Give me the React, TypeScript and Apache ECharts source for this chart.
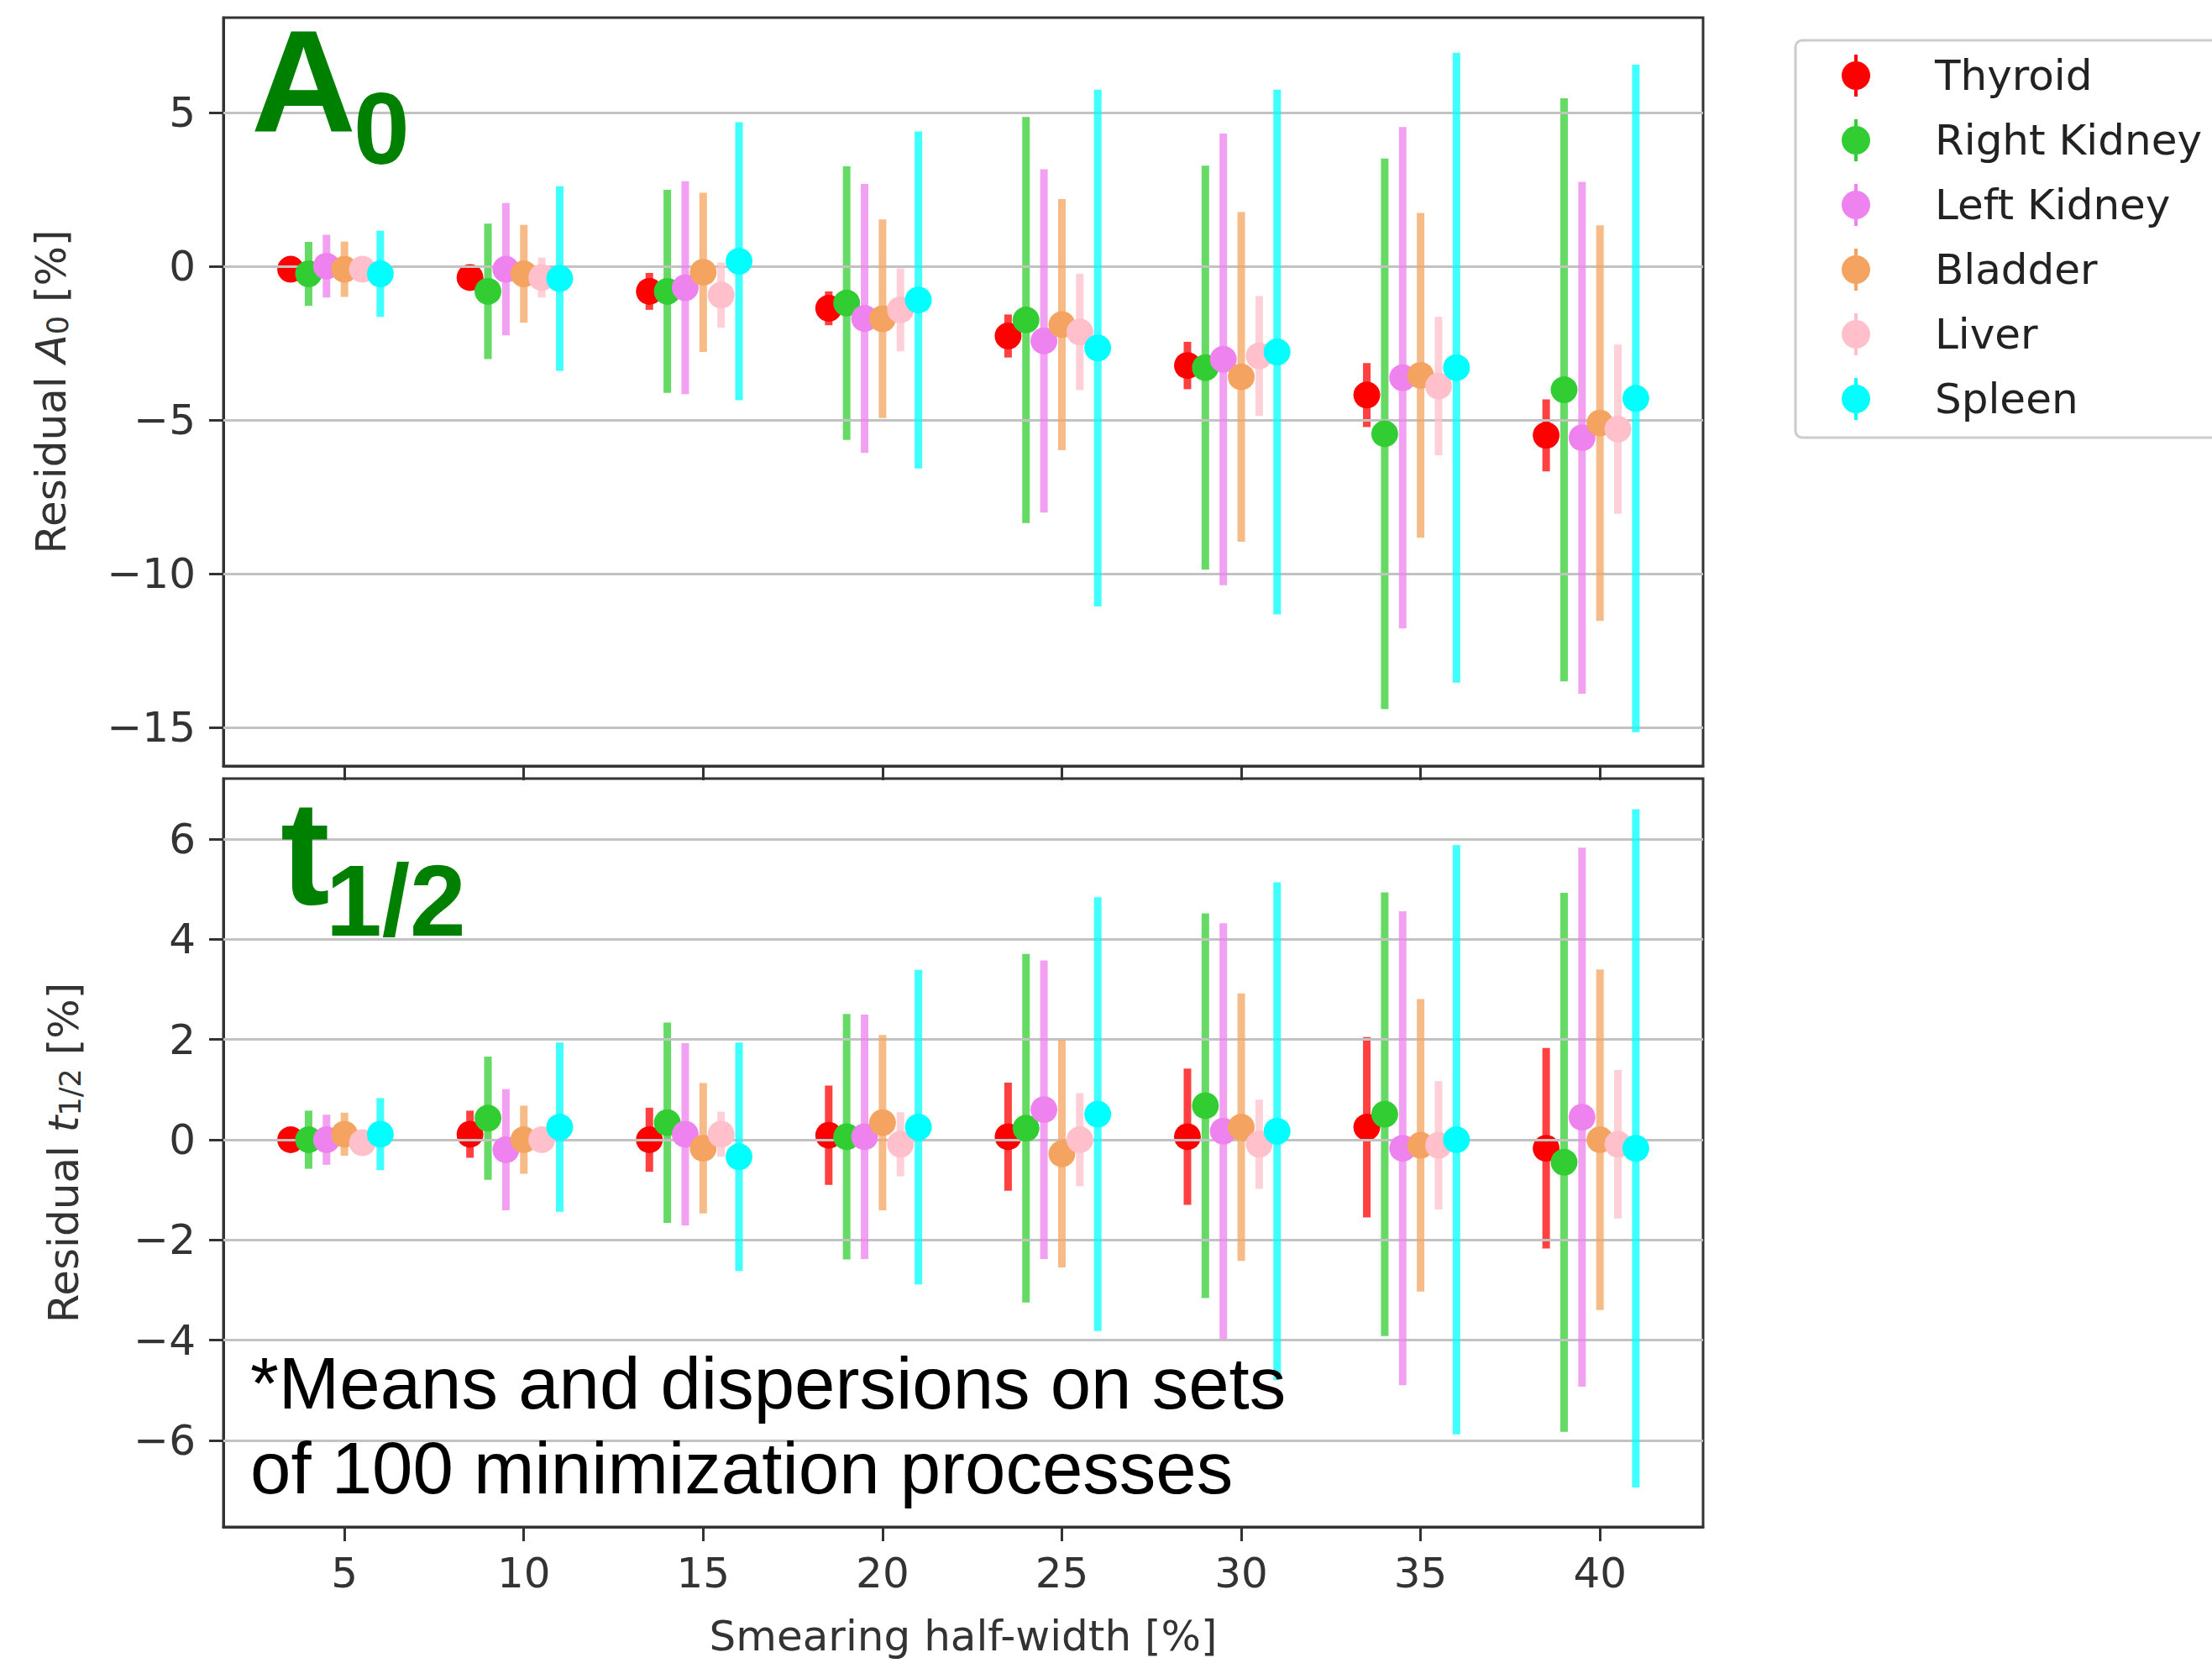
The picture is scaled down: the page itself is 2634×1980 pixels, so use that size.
import React, { useEffect, useRef } from "react";
import * as echarts from "echarts";

// ---------- data ----------
const organs = ["Thyroid", "Right Kidney", "Left Kidney", "Bladder", "Liver", "Spleen"];
const smearing = [5, 10, 15, 20, 25, 30, 35, 40];
const a0Ticks = [-15, -10, -5, 0, 5];
const tHalfTicks = [-6, -4, -2, 0, 2, 4, 6];

// Residual A0 [%] : means and dispersions
const a0ThyroidMean = [-0.1, -0.37, -0.82, -1.37, -2.27, -3.23, -4.19, -5.5];
const a0ThyroidErr = [0.3, 0.35, 0.6, 0.55, 0.7, 0.77, 1.04, 1.17];
const a0RightKidneyMean = [-0.25, -0.82, -0.82, -1.2, -1.75, -3.3, -5.45, -4.02];
const a0RightKidneyErr = [1.04, 2.2, 3.3, 4.45, 6.6, 6.57, 8.95, 9.48];
const a0LeftKidneyMean = [0.0, -0.1, -0.7, -1.7, -2.43, -3.03, -3.63, -5.58];
const a0LeftKidneyErr = [1.02, 2.15, 3.46, 4.37, 5.58, 7.34, 8.15, 8.32];
const a0BladderMean = [-0.1, -0.25, -0.2, -1.71, -1.9, -3.6, -3.55, -5.1];
const a0BladderErr = [0.9, 1.59, 2.59, 3.23, 4.08, 5.36, 5.28, 6.43];
const a0LiverMean = [-0.1, -0.37, -0.94, -1.42, -2.14, -2.92, -3.9, -5.3];
const a0LiverErr = [0.3, 0.65, 1.06, 1.35, 1.89, 1.95, 2.25, 2.75];
const a0SpleenMean = [-0.25, -0.4, 0.16, -1.1, -2.66, -2.79, -3.3, -4.3];
const a0SpleenErr = [1.4, 3.0, 4.52, 5.48, 8.4, 8.53, 10.24, 10.85];

// Residual t1/2 [%] : means and dispersions
const tThyroidMean = [0.0, 0.11, 0.0, 0.09, 0.06, 0.06, 0.25, -0.17];
const tThyroidErr = [0.25, 0.47, 0.64, 0.99, 1.08, 1.36, 1.8, 2.0];
const tRightKidneyMean = [0.0, 0.43, 0.34, 0.06, 0.23, 0.68, 0.51, -0.45];
const tRightKidneyErr = [0.58, 1.23, 2.0, 2.45, 3.48, 3.84, 4.43, 5.38];
const tLeftKidneyMean = [0.0, -0.2, 0.11, 0.06, 0.6, 0.17, -0.17, 0.45];
const tLeftKidneyErr = [0.5, 1.21, 1.82, 2.44, 2.98, 4.15, 4.73, 5.38];
const tBladderMean = [0.11, 0.0, -0.17, 0.34, -0.28, 0.25, -0.11, 0.0];
const tBladderErr = [0.43, 0.68, 1.3, 1.75, 2.27, 2.67, 2.92, 3.4];
const tLiverMean = [-0.06, 0.0, 0.11, -0.09, 0.0, -0.09, -0.11, -0.09];
const tLiverErr = [0.2, 0.25, 0.45, 0.64, 0.93, 0.89, 1.28, 1.48];
const tSpleenMean = [0.11, 0.25, -0.34, 0.25, 0.51, 0.17, 0.0, -0.17];
const tSpleenErr = [0.72, 1.69, 2.28, 3.14, 4.33, 4.97, 5.88, 6.77];

const a0Means = [a0ThyroidMean, a0RightKidneyMean, a0LeftKidneyMean, a0BladderMean, a0LiverMean, a0SpleenMean];
const a0Errs = [a0ThyroidErr, a0RightKidneyErr, a0LeftKidneyErr, a0BladderErr, a0LiverErr, a0SpleenErr];
const tMeans = [tThyroidMean, tRightKidneyMean, tLeftKidneyMean, tBladderMean, tLiverMean, tSpleenMean];
const tErrs = [tThyroidErr, tRightKidneyErr, tLeftKidneyErr, tBladderErr, tLiverErr, tSpleenErr];

// ---------- style ----------
const dodge = [-1.5, -1, -0.5, 0, 0.5, 1];
const colors = ["#ff0000", "#32cd32", "#ee82ee", "#f4a460", "#ffc0cb", "#00ffff"];
const AX_FONT = "DejaVu Sans";
const AX_COLOR = "#333333";
const GRID_LEFT = 266;
const GRID_WIDTH = 1762;
const legendIcon =
  "path://M0,25 A17,17 0 1 1 34,25 A17,17 0 1 1 0,25 Z M15,0 L19,0 L19,50 L15,50 Z";

const minus = (v: number) => String(v).replace("-", "\u2212");

function buildOption() {
  const series: any[] = [];
  const panels = [
    { means: a0Means, errs: a0Errs, ticks: a0Ticks },
    { means: tMeans, errs: tErrs, ticks: tHalfTicks },
  ];
  // scatter series first so the legend takes their colour
  panels.forEach((p, pi) => {
    organs.forEach((name, i) => {
      series.push({
        type: "scatter",
        name,
        xAxisIndex: pi,
        yAxisIndex: pi,
        symbol: "circle",
        symbolSize: 32,
        itemStyle: { color: colors[i], opacity: 1 },
        z: 3 + 2 * i,
        data: smearing.map((x, k) => [x + dodge[i], p.means[i][k]]),
      });
    });
  });
  panels.forEach((p, pi) => {
    organs.forEach((name, i) => {
      const color = colors[i];
      series.push({
        type: "custom",
        name,
        xAxisIndex: pi,
        yAxisIndex: pi,
        itemStyle: { color },
        z: 2 + 2 * i,
        encode: { x: 0, y: [1, 2] },
        data: smearing.map((x, k) => [
          x + dodge[i],
          p.means[i][k] - p.errs[i][k],
          p.means[i][k] + p.errs[i][k],
        ]),
        renderItem: (params: any, api: any) => {
          const lo = api.coord([api.value(0), api.value(1)]);
          const hi = api.coord([api.value(0), api.value(2)]);
          return {
            type: "line",
            shape: { x1: lo[0], y1: lo[1], x2: hi[0], y2: hi[1] },
            style: { stroke: color, lineWidth: 9, opacity: 0.75 },
          };
        },
      });
    });
    // horizontal grid lines
    series.push({
      type: "scatter",
      name: "grid" + pi,
      xAxisIndex: pi,
      yAxisIndex: pi,
      data: [],
      z: 1,
      markLine: {
        silent: true,
        symbol: ["none", "none"],
        label: { show: false },
        lineStyle: { color: "#c2c2c2", width: 3, type: "solid" },
        data: p.ticks.map((v) => ({ yAxis: v })),
      },
    });
  });

  const xAxisBase = (showLabels: boolean) => ({
    type: "value",
    min: 1.625,
    max: 42.875,
    axisLine: { show: true, onZero: false, lineStyle: { color: AX_COLOR, width: 3 } },
    axisTick: {
      show: true,
      customValues: smearing,
      length: 17,
      lineStyle: { color: AX_COLOR, width: 3 },
    },
    axisLabel: {
      show: showLabels,
      customValues: smearing,
      margin: 30,
      fontSize: 50,
      fontFamily: AX_FONT,
      color: AX_COLOR,
    },
    splitLine: { show: false },
  });

  const yAxisBase = (min: number, max: number, ticks: number[]) => ({
    type: "value",
    min,
    max,
    axisLine: { show: true, onZero: false, lineStyle: { color: AX_COLOR, width: 3 } },
    axisTick: {
      show: true,
      customValues: ticks,
      length: 17,
      lineStyle: { color: AX_COLOR, width: 3 },
    },
    axisLabel: {
      customValues: ticks,
      margin: 33,
      fontSize: 50,
      fontFamily: AX_FONT,
      color: AX_COLOR,
      formatter: (v: number) => minus(v),
    },
    splitLine: { show: false },
    nameLocation: "middle",
    nameRotate: 90,
  });

  const nameRich = {
    n: { fontSize: 50, fontFamily: AX_FONT, color: AX_COLOR },
    i: { fontSize: 50, fontFamily: AX_FONT, color: AX_COLOR, fontStyle: "italic" },
    s: { fontSize: 35, fontFamily: AX_FONT, color: AX_COLOR, lineHeight: 20, verticalAlign: "bottom" },
  };

  const green = "#008000";
  const bigFont = (size: number) => `bold ${size}px "Liberation Sans", Arial, sans-serif`;
  const noteFont = `87px "Liberation Sans", Arial, sans-serif`;

  return {
    animation: false,
    backgroundColor: "#ffffff",
    grid: [
      {
        left: GRID_LEFT,
        top: 21,
        width: GRID_WIDTH,
        height: 891,
        show: true,
        borderColor: AX_COLOR,
        borderWidth: 3,
        backgroundColor: "transparent",
      },
      {
        left: GRID_LEFT,
        top: 927,
        width: GRID_WIDTH,
        height: 891,
        show: true,
        borderColor: AX_COLOR,
        borderWidth: 3,
        backgroundColor: "transparent",
      },
    ],
    xAxis: [
      { ...xAxisBase(false), gridIndex: 0 },
      {
        ...xAxisBase(true),
        gridIndex: 1,
        name: "Smearing half-width [%]",
        nameLocation: "middle",
        nameGap: 105,
        nameTextStyle: { fontSize: 50, fontFamily: AX_FONT, color: AX_COLOR },
      },
    ],
    yAxis: [
      {
        ...yAxisBase(-16.25, 8.08, a0Ticks),
        gridIndex: 0,
        name: "{n|Residual }{i|A}{s|0}{n| [%]}",
        nameGap: 180,
        nameTextStyle: { rich: nameRich },
      },
      {
        ...yAxisBase(-7.73, 7.21, tHalfTicks),
        gridIndex: 1,
        name: "{n|Residual }{i|t}{s|1/2}{n| [%]}",
        nameGap: 165,
        nameTextStyle: { rich: nameRich },
      },
    ],
    legend: {
      data: organs.map((name) => ({ name, icon: legendIcon })),
      orient: "vertical",
      left: 2138,
      top: 48,
      itemWidth: 34,
      itemHeight: 50,
      itemGap: 27,
      padding: [17, 40, 21, 55],
      backgroundColor: "#ffffff",
      borderColor: "#cccccc",
      borderWidth: 3,
      borderRadius: 8,
      textStyle: {
        fontSize: 50,
        fontFamily: AX_FONT,
        color: "#222222",
        lineHeight: 50,
        padding: [0, 0, 0, 72],
      },
    },
    graphic: [
      { type: "text", x: 299, y: 96, z: 50, style: { text: "A", font: bigFont(173), fill: green, align: "left", verticalAlign: "middle", lineHeight: 150 } },
      { type: "text", x: 421, y: 153, z: 50, style: { text: "0", font: bigFont(120), fill: green, align: "left", verticalAlign: "middle", lineHeight: 110 } },
      { type: "text", x: 334, y: 1015, z: 50, style: { text: "t", font: bigFont(176), fill: green, align: "left", verticalAlign: "middle", lineHeight: 150 } },
      { type: "text", x: 388, y: 1072, z: 50, style: { text: "1/2", font: bigFont(120), fill: green, align: "left", verticalAlign: "middle", lineHeight: 110 } },
      { type: "text", x: 298, y: 1646, z: 50, style: { text: "*Means and dispersions on sets", font: noteFont, fill: "#000000", align: "left", verticalAlign: "middle" } },
      { type: "text", x: 298, y: 1747, z: 50, style: { text: "of 100 minimization processes", font: noteFont, fill: "#000000", align: "left", verticalAlign: "middle" } },
    ],
    series,
  };
}

export default function App() {
  const ref = useRef<HTMLDivElement>(null);
  useEffect(() => {
    if (!ref.current) return;
    const chart = echarts.init(ref.current, undefined, { renderer: "svg" });
    chart.setOption(buildOption() as any);
    return () => chart.dispose();
  }, []);
  return (
    <div
      ref={ref}
      style={{ position: "fixed", left: 0, top: 0, width: 2634, height: 1980, background: "#ffffff" }}
    />
  );
}
